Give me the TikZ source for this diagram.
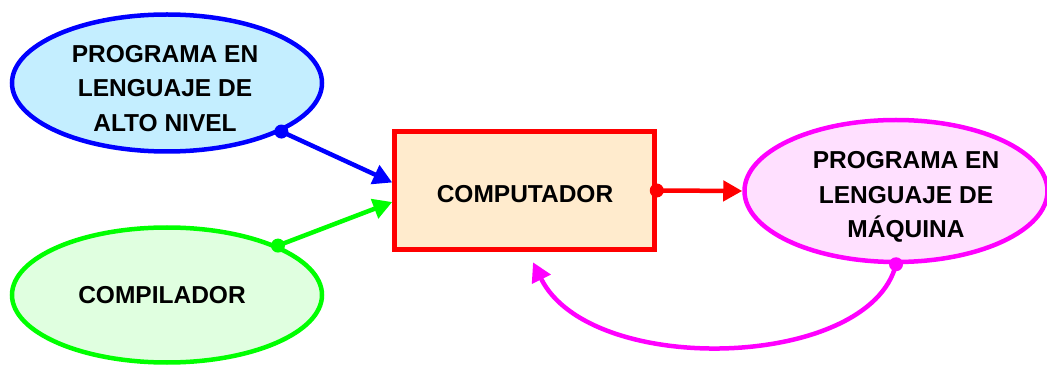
\documentclass[tikz,border=0pt]{standalone}
\usepackage{fontspec}
\setmainfont{Liberation Sans}
\usetikzlibrary{shapes.geometric,arrows.meta}

\definecolor{blueFill}{HTML}{C4EEFF}
\definecolor{greenFill}{HTML}{E0FFE0}
\definecolor{boxFill}{HTML}{FFEBCD}
\definecolor{pinkFill}{HTML}{FFE0FF}
\definecolor{pureBlue}{RGB}{0,0,255}
\definecolor{pureGreen}{RGB}{0,255,0}
\definecolor{pureRed}{RGB}{255,0,0}
\definecolor{pureMagenta}{RGB}{255,0,255}

\tikzset{
  blob/.style={ellipse, line width=4.5pt, inner sep=0pt},
  procbox/.style={rectangle, line width=4.5pt, inner sep=0pt},
  caption/.style={align=center, font=\bfseries\fontsize{24.5}{34.5}\selectfont, inner sep=0pt},
  link/.style={line width=4.5pt, -{Triangle[length=19pt,width=20pt]}},
}

\begin{document}
\begin{tikzpicture}[x=1pt,y=-1pt]
  \useasboundingbox (0,0) rectangle (1047,366);

  % shapes
  \node[blob, draw=pureBlue, fill=blueFill, minimum width=310pt, minimum height=137pt] (src) at (167,83) {};
  \node[blob, draw=pureGreen, fill=greenFill, minimum width=310pt, minimum height=135pt] (comp) at (167,295) {};
  \node[procbox, draw=pureRed, fill=boxFill, minimum width=260pt, minimum height=118pt] (pc) at (524.5,190.5) {};
  \node[blob, draw=pureMagenta, fill=pinkFill, minimum width=303pt, minimum height=142pt] (mach) at (896,191) {};

  % texts
  \node[caption] (srcT) at (165,88.5) {PROGRAMA EN\\LENGUAJE DE\\ALTO NIVEL};
  \node[caption] (compT) at (162,295) {COMPILADOR};
  \node[caption] (pcT) at (525,194) {COMPUTADOR};
  \node[caption] (machT) at (906,197) {PROGRAMA EN\\LENGUAJE DE\\MÁQUINA};

  % connectors
  \coordinate (back) at ([xshift=8.5pt,yshift=-10.5pt]pc.south);
  \draw[link, pureBlue] (src.-23) -- ([yshift=8pt]pc.west);
  \draw[link, pureGreen] (comp.24) -- ([yshift=-11.5pt]pc.west);
  \draw[link, pureRed] (pc.east) -- (mach.west);
  \draw[link, pureMagenta] (mach.south) .. controls (870,370) and (590,378) .. (back);

  % start dots
  \fill[pureBlue] (src.-23) circle (7pt);
  \fill[pureGreen] (comp.24) circle (7pt);
  \fill[pureRed] (pc.east) circle (7pt);
  \fill[pureMagenta] (mach.south) circle (7pt);
\end{tikzpicture}
\end{document}
